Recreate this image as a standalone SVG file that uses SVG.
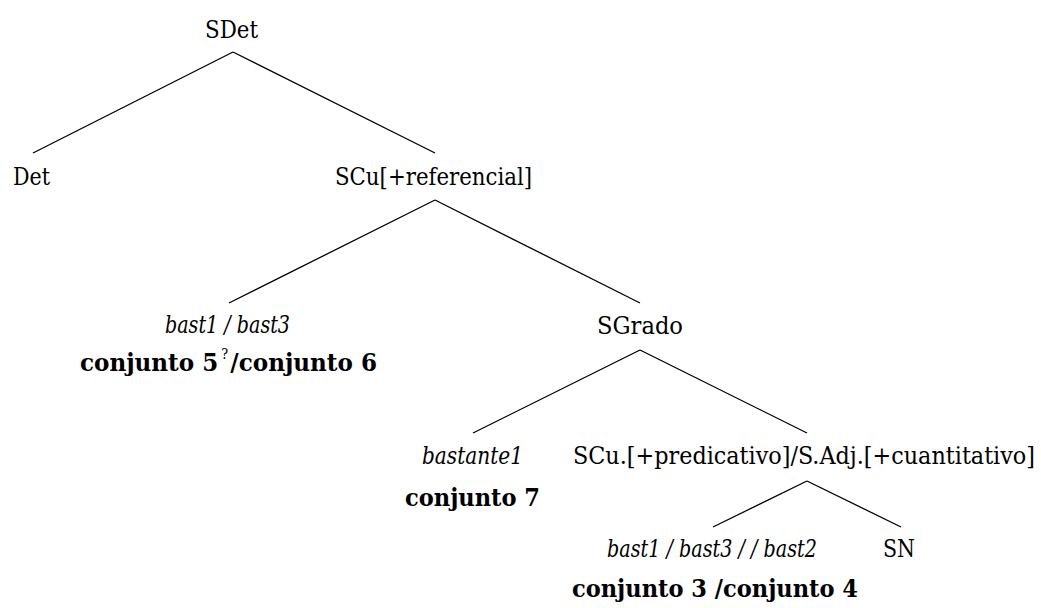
<svg xmlns="http://www.w3.org/2000/svg" width="1041" height="608" viewBox="0 0 1041 608">
<style>
text{font-family:"DejaVu Serif Condensed","DejaVu Serif",serif;font-stretch:condensed;font-size:25px;fill:#000}
.it{font-style:italic}
.bf{font-weight:bold}
.sup{font-size:14px;font-weight:normal}
.edge{stroke:#000;stroke-width:1.3;fill:none}
</style>
<rect width="1041" height="608" fill="#fff"/>
<g id="connectors">
<line class="edge" x1="233" y1="52" x2="33" y2="153"/>
<line class="edge" x1="233" y1="52" x2="435" y2="153"/>
<line class="edge" x1="435" y1="200" x2="229" y2="303"/>
<line class="edge" x1="435" y1="200" x2="640" y2="303"/>
<line class="edge" x1="640" y1="350" x2="473" y2="433"/>
<line class="edge" x1="640" y1="350" x2="807" y2="433"/>
<line class="edge" x1="807" y1="481" x2="713" y2="527"/>
<line class="edge" x1="807" y1="481" x2="901" y2="527"/>
</g>
<g id="n-sdet"><text x="205" y="38" textLength="53" lengthAdjust="spacingAndGlyphs">SDet</text></g>
<g id="n-det"><text x="13" y="185" textLength="37" lengthAdjust="spacingAndGlyphs">Det</text></g>
<g id="n-scu-ref"><text x="335" y="185" textLength="197" lengthAdjust="spacingAndGlyphs">SCu[+referencial]</text></g>
<g id="n-bast13">
<text class="it" x="165" y="333" textLength="125" lengthAdjust="spacingAndGlyphs">bast1 / bast3</text>
<text class="bf" x="80" y="371" textLength="297" lengthAdjust="spacingAndGlyphs">conjunto 5<tspan class="sup" dx="3" dy="-12">?</tspan><tspan dx="2" dy="12">/conjunto 6</tspan></text>
</g>
<g id="n-sgrado"><text x="597" y="334" textLength="86" lengthAdjust="spacingAndGlyphs">SGrado</text></g>
<g id="n-bastante1">
<text class="it" x="422" y="464" textLength="101" lengthAdjust="spacingAndGlyphs">bastante1</text>
<text class="bf" x="405" y="506" textLength="135" lengthAdjust="spacingAndGlyphs">conjunto 7</text>
</g>
<g id="n-scu-pred"><text x="573" y="464" textLength="462" lengthAdjust="spacingAndGlyphs">SCu.[+predicativo]/S.Adj.[+cuantitativo]</text></g>
<g id="n-bast132">
<text class="it" x="607" y="557" textLength="210" lengthAdjust="spacingAndGlyphs">bast1 / bast3 / / bast2</text>
<text class="bf" x="572" y="597" textLength="286" lengthAdjust="spacingAndGlyphs">conjunto 3 /conjunto 4</text>
</g>
<g id="n-sn"><text x="883" y="557" textLength="32" lengthAdjust="spacingAndGlyphs">SN</text></g>
</svg>
